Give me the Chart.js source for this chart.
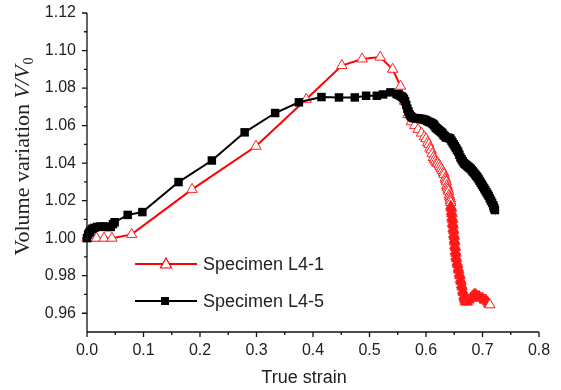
<!DOCTYPE html>
<html>
<head>
<meta charset="utf-8">
<script src="https://cdn.jsdelivr.net/npm/chart.js@4.4.1/dist/chart.umd.min.js"></script>
<style>
	body { margin: 0; background: #ffffff; }
	#wrap { width: 561px; height: 390px; }
</style>
</head>
<body>
<div id="wrap"><canvas id="strainChart" width="561" height="390"></canvas></div>
<script>
// Specimen L4-1 (red, open triangles)
const strainL41 = [0.000, 0.008, 0.017, 0.030, 0.044, 0.079, 0.186, 0.299, 0.388, 0.451, 0.487, 0.519, 0.541, 0.555,
	0.562, 0.568, 0.574, 0.580, 0.586, 0.592, 0.597,
	0.600, 0.603, 0.605, 0.607, 0.609, 0.611, 0.613, 0.615, 0.617, 0.619, 0.621, 0.623, 0.625, 0.627, 0.629, 0.631,
	0.632, 0.634, 0.635, 0.636, 0.637, 0.638, 0.639, 0.640, 0.641, 0.642, 0.643, 0.643, 0.644, 0.644, 0.645, 0.645,
	0.646, 0.646, 0.647, 0.647, 0.648, 0.648, 0.649, 0.649, 0.650, 0.650, 0.651, 0.651, 0.652, 0.652, 0.653, 0.653,
	0.654, 0.655, 0.656, 0.657, 0.658, 0.659, 0.660, 0.661, 0.662, 0.663, 0.664, 0.665, 0.666, 0.667, 0.668, 0.669,
	0.670, 0.673, 0.676, 0.679, 0.682, 0.685, 0.688, 0.691, 0.694, 0.697, 0.700, 0.703, 0.706, 0.709, 0.711, 0.713];
const volumeL41 = [1.000, 1.000, 1.000, 1.000, 1.000, 1.002, 1.026, 1.049, 1.074, 1.092, 1.0955, 1.0965, 1.090, 1.081,
	1.073, 1.066, 1.062, 1.060, 1.058, 1.056, 1.054,
	1.053, 1.051, 1.050, 1.048, 1.047, 1.045, 1.043, 1.042, 1.041, 1.040, 1.040, 1.039, 1.038, 1.037, 1.036, 1.035,
	1.034, 1.032, 1.031, 1.030, 1.028, 1.027, 1.026, 1.025, 1.023, 1.022, 1.021, 1.020, 1.019, 1.017, 1.016, 1.014,
	1.013, 1.011, 1.010, 1.008, 1.007, 1.005, 1.004, 1.002, 1.001, 0.999, 0.998, 0.996, 0.995, 0.993, 0.992, 0.990,
	0.989, 0.987, 0.986, 0.984, 0.983, 0.981, 0.980, 0.978, 0.977, 0.975, 0.974, 0.972, 0.971, 0.969, 0.968, 0.967,
	0.966, 0.966, 0.967, 0.968, 0.969, 0.970, 0.970, 0.969, 0.969, 0.968, 0.968, 0.967, 0.967, 0.966, 0.965, 0.9645];

// Specimen L4-5 (black, filled squares)
const strainL45 = [0.000, 0.002, 0.004, 0.006, 0.009, 0.013, 0.018, 0.023, 0.028, 0.033, 0.038, 0.042, 0.046, 0.049,
	0.072, 0.098, 0.162, 0.221, 0.279, 0.333, 0.375, 0.415, 0.446, 0.474, 0.494, 0.513, 0.524, 0.537, 0.548,
	0.551, 0.554, 0.557, 0.559, 0.561, 0.563, 0.565, 0.567, 0.569, 0.571, 0.573, 0.575, 0.578, 0.581, 0.584, 0.587,
	0.590, 0.593, 0.596, 0.599, 0.602, 0.605, 0.608, 0.611, 0.613, 0.615, 0.617, 0.619, 0.621, 0.623, 0.625, 0.627,
	0.629, 0.631, 0.633, 0.635, 0.637, 0.639, 0.641, 0.643, 0.645, 0.647, 0.649, 0.651, 0.653, 0.655, 0.657, 0.659,
	0.661, 0.663, 0.665, 0.667, 0.669, 0.671, 0.673, 0.675, 0.677, 0.679, 0.681, 0.683, 0.685, 0.687, 0.689, 0.691,
	0.693, 0.695, 0.697, 0.699, 0.701, 0.703, 0.705, 0.707, 0.709, 0.711, 0.713, 0.715, 0.717, 0.719, 0.720, 0.721, 0.722];
const volumeL45 = [1.000, 1.002, 1.003, 1.004, 1.005, 1.0055, 1.006, 1.0062, 1.0062, 1.006, 1.006, 1.006, 1.0075, 1.0085,
	1.0124, 1.0139, 1.0299, 1.0414, 1.0564, 1.0667, 1.0724, 1.0752, 1.075, 1.075, 1.0759, 1.0759, 1.0766, 1.0777, 1.0768,
	1.0765, 1.076, 1.0755, 1.075, 1.0742, 1.073, 1.071, 1.069, 1.0675, 1.066, 1.065, 1.0645, 1.064, 1.064, 1.0638, 1.0638,
	1.0636, 1.0635, 1.0632, 1.063, 1.0625, 1.062, 1.0617, 1.0612, 1.0607, 1.060, 1.059, 1.0585, 1.058, 1.0575, 1.057, 1.0565,
	1.056, 1.055, 1.0545, 1.0538, 1.0535, 1.0535, 1.0533, 1.053, 1.052, 1.051, 1.050, 1.049, 1.048, 1.047, 1.046, 1.0445,
	1.043, 1.042, 1.041, 1.040, 1.0395, 1.039, 1.0385, 1.038, 1.0375, 1.037, 1.0362, 1.0355, 1.0348, 1.034, 1.0332, 1.0325,
	1.0315, 1.0305, 1.0295, 1.0285, 1.0275, 1.0265, 1.0255, 1.0245, 1.0235, 1.0225, 1.0212, 1.020, 1.0188, 1.0175, 1.0165, 1.0158, 1.015];

// Tick labels
const xTickValues = [0, 0.1, 0.2, 0.3, 0.4, 0.5, 0.6, 0.7, 0.8];
const xTickLabels = ['0.0', '0.1', '0.2', '0.3', '0.4', '0.5', '0.6', '0.7', '0.8'];
const yTickValues = [0.96, 0.98, 1.00, 1.02, 1.04, 1.06, 1.08, 1.10, 1.12];
const yTickLabels = ['0.96', '0.98', '1.00', '1.02', '1.04', '1.06', '1.08', '1.10', '1.12'];
const seriesNames = ['Specimen L4-1', 'Specimen L4-5'];

function toPoints(xs, ys) {
	return xs.map((x, i) => ({ x: x, y: ys[i] }));
}

// Axes drawn by hand so minor ticks can be shorter than major ones
const axesPlugin = {
	id: 'originAxes',
	afterDraw(chart) {
		const ctx = chart.ctx;
		const area = chart.chartArea;
		const xs = chart.scales.x;
		const ys = chart.scales.y;
		ctx.save();
		ctx.strokeStyle = '#111';
		ctx.lineWidth = 1.3;
		ctx.beginPath();
		ctx.moveTo(area.left, area.top);
		ctx.lineTo(area.left, area.bottom);
		ctx.lineTo(area.right, area.bottom);
		// x ticks
		xTickValues.forEach((v, i) => {
			const px = xs.getPixelForValue(v);
			ctx.moveTo(px, area.bottom);
			ctx.lineTo(px, area.bottom + 5);
			if (i < xTickValues.length - 1) {
				const mx = xs.getPixelForValue(v + 0.05);
				ctx.moveTo(mx, area.bottom);
				ctx.lineTo(mx, area.bottom + 3);
			}
		});
		// y ticks
		yTickValues.forEach((v, i) => {
			const py = ys.getPixelForValue(v);
			ctx.moveTo(area.left, py);
			ctx.lineTo(area.left - 5, py);
			if (i < yTickValues.length - 1) {
				const my = ys.getPixelForValue(v + 0.01);
				ctx.moveTo(area.left, my);
				ctx.lineTo(area.left - 3, my);
			}
		});
		ctx.stroke();

		ctx.fillStyle = '#222';
		ctx.font = '16px "Liberation Sans", Arial, sans-serif';
		ctx.textAlign = 'center';
		ctx.textBaseline = 'middle';
		xTickValues.forEach((v, i) => {
			ctx.fillText(xTickLabels[i], xs.getPixelForValue(v), area.bottom + 19);
		});
		ctx.textAlign = 'right';
		yTickValues.forEach((v, i) => {
			ctx.fillText(yTickLabels[i], area.left - 11, ys.getPixelForValue(v));
		});

		// x title
		ctx.textAlign = 'center';
		ctx.font = '18px "Liberation Sans", Arial, sans-serif';
		ctx.fillText('True strain', 304, 378);

		// y title: "Volume variation V/V0"
		ctx.translate(22, 157);
		ctx.rotate(-Math.PI / 2);
		const fNorm = '22px "Liberation Serif", "Times New Roman", serif';
		const fItal = 'italic 22px "Liberation Serif", "Times New Roman", serif';
		const fSub = '14px "Liberation Serif", "Times New Roman", serif';
		ctx.font = fNorm;
		const w1 = ctx.measureText('Volume variation ').width;
		ctx.font = fItal;
		const w2 = ctx.measureText('V/V').width;
		ctx.font = fSub;
		const w3 = ctx.measureText('0').width;
		let cx = -(w1 + w2 + w3) / 2;
		ctx.textAlign = 'left';
		ctx.textBaseline = 'alphabetic';
		ctx.font = fNorm;
		ctx.fillText('Volume variation ', cx, 7);
		cx += w1;
		ctx.font = fItal;
		ctx.fillText('V/V', cx, 7);
		cx += w2;
		ctx.font = fSub;
		ctx.fillText('0', cx + 1, 11);
		ctx.restore();
	}
};

// Legend inside plot area
const legendPlugin = {
	id: 'insideLegend',
	afterDraw(chart) {
		const ctx = chart.ctx;
		ctx.save();
		// red entry
		ctx.strokeStyle = '#ff0000';
		ctx.lineWidth = 2;
		ctx.beginPath();
		ctx.moveTo(135, 264);
		ctx.lineTo(197, 264);
		ctx.stroke();
		ctx.beginPath();
		ctx.moveTo(166, 258);
		ctx.lineTo(171.5, 268);
		ctx.lineTo(160.5, 268);
		ctx.closePath();
		ctx.fillStyle = '#ffffff';
		ctx.fill();
		ctx.lineWidth = 1.2;
		ctx.stroke();
		// black entry
		ctx.strokeStyle = '#000000';
		ctx.lineWidth = 2;
		ctx.beginPath();
		ctx.moveTo(135, 301);
		ctx.lineTo(197, 301);
		ctx.stroke();
		ctx.fillStyle = '#000000';
		ctx.fillRect(161, 297, 8, 8);

		ctx.fillStyle = '#222';
		ctx.font = '18px "Liberation Sans", Arial, sans-serif';
		ctx.textAlign = 'left';
		ctx.textBaseline = 'middle';
		ctx.fillText(seriesNames[0], 203, 265);
		ctx.fillText(seriesNames[1], 203, 302);
		ctx.restore();
	}
};

document.addEventListener('DOMContentLoaded', function() {
	const ctx = document.getElementById('strainChart').getContext('2d');
	const lastRed = strainL41.length - 1;
	new Chart(ctx, {
		type: 'line',
		data: {
			datasets: [
				{
					label: seriesNames[0],
					data: toPoints(strainL41, volumeL41),
					borderColor: '#ff0000',
					borderWidth: 2,
					pointStyle: 'triangle',
					pointRadius: 6,
					pointBorderWidth: 1,
					pointBorderColor: '#ff2020',
					// the packed triangles in the steep drop merge into a solid band
					pointBackgroundColor: function(c) {
						const p = c.raw;
						if (p && p.x > 0.64 && p.y < 1.018 && c.dataIndex < lastRed) return '#ff1010';
						return '#ffffff';
					},
					tension: 0,
					clip: false,
					order: 1
				},
				{
					label: seriesNames[1],
					data: toPoints(strainL45, volumeL45),
					borderColor: '#000000',
					borderWidth: 2,
					pointStyle: 'rect',
					pointRadius: 6,
					pointBorderWidth: 0,
					pointBackgroundColor: '#000000',
					tension: 0,
					clip: false,
					order: 0
				}
			]
		},
		options: {
			responsive: false,
			animation: false,
			layout: {
				padding: { left: 87, right: 22, top: 13, bottom: 58 }
			},
			plugins: {
				legend: { display: false },
				tooltip: { enabled: false }
			},
			scales: {
				x: { type: 'linear', min: 0, max: 0.8, display: false },
				y: { type: 'linear', min: 0.95, max: 1.12, display: false }
			}
		},
		plugins: [axesPlugin, legendPlugin]
	});
});
</script>
</body>
</html>
